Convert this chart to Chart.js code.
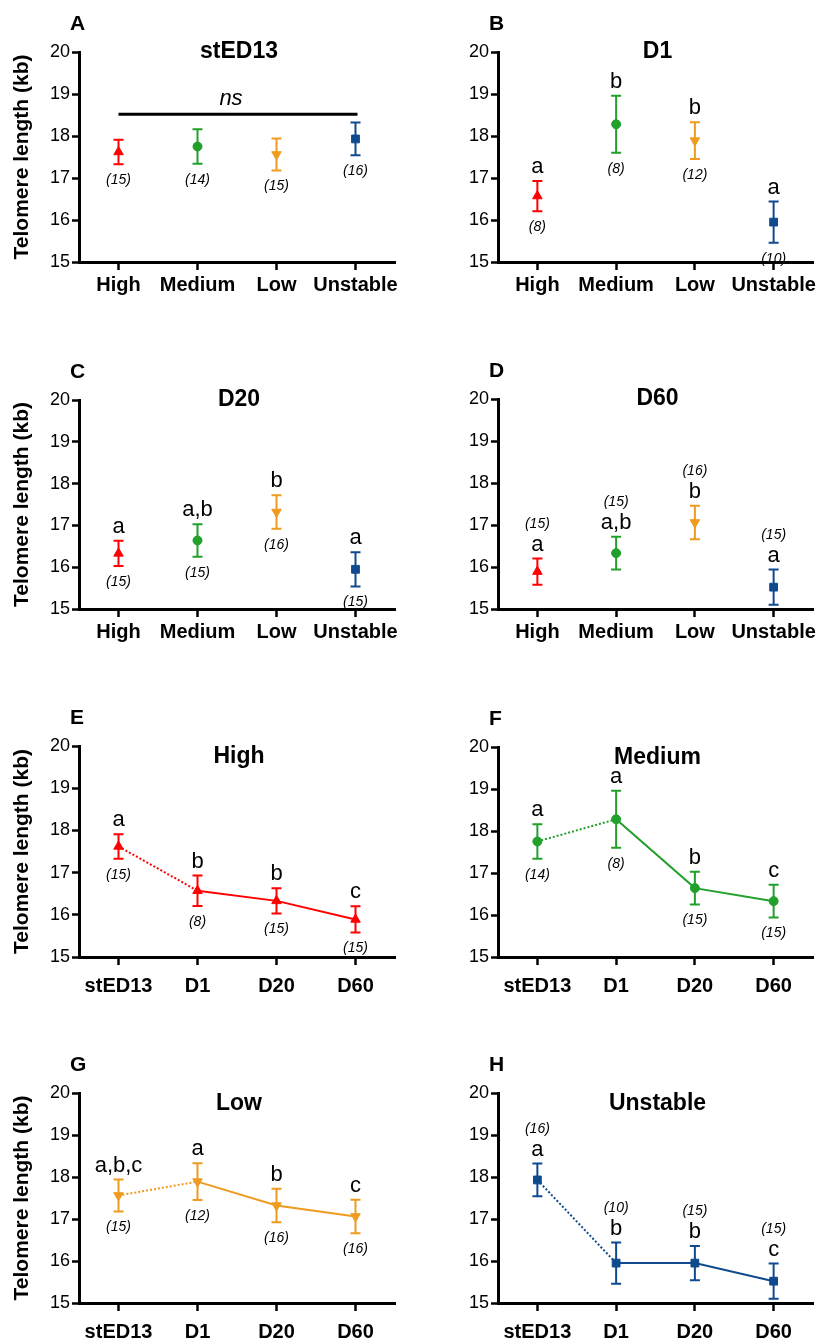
<!DOCTYPE html>
<html>
<head>
<meta charset="utf-8">
<script src="https://cdn.jsdelivr.net/npm/chart.js@4.4.1/dist/chart.umd.min.js"></script>
<style>
  html, body { margin: 0; padding: 0; background: #fff; }
  #page { position: relative; width: 821px; height: 1342px; overflow: hidden; }
  canvas { position: absolute; }
</style>
</head>
<body>
<div id="page"></div>
<script>
const groups = ["High", "Medium", "Low", "Unstable"];
const stages = ["stED13", "D1", "D20", "D60"];
const yTicks = [15, 16, 17, 18, 19, 20];

// mean telomere length (kb) and SEM at stED13, D1, D20, D60
const highMean = [17.62, 16.57, 16.33, 15.89];
const highSem = [0.29, 0.36, 0.30, 0.31];
const highN = [15, 8, 15, 15];

const mediumMean = [17.75, 18.28, 16.64, 16.33];
const mediumSem = [0.41, 0.68, 0.39, 0.39];
const mediumN = [14, 8, 15, 15];

const lowMean = [17.56, 17.89, 17.32, 17.06];
const lowSem = [0.38, 0.44, 0.40, 0.40];
const lowN = [15, 12, 16, 16];

const unstableMean = [17.93, 15.95, 15.95, 15.52];
const unstableSem = [0.39, 0.49, 0.41, 0.42];
const unstableN = [16, 10, 15, 15];

// significance letters
const lettersD1 = ["a", "b", "b", "a"];
const lettersD20 = ["a", "a,b", "b", "a"];
const lettersD60 = ["a", "a,b", "b", "a"];
const lettersHigh = ["a", "b", "b", "c"];
const lettersMedium = ["a", "a", "b", "c"];
const lettersLow = ["a,b,c", "a", "b", "c"];
const lettersUnstable = ["a", "b", "b", "c"];
const nsLevel = 18.52;

const means = [highMean, mediumMean, lowMean, unstableMean];
const sems = [highSem, mediumSem, lowSem, unstableSem];
const counts = [highN, mediumN, lowN, unstableN];

const colors = ["#ff0000", "#21a02b", "#ee9b1f", "#0f4a8e"];
const markers = ["triangle", "circle", "triangle", "rect"];
const rotations = [0, 0, 180, 0];
const radii = [5.5, 4.5, 5.5, 5.5];

const FONT = "'Liberation Sans', Arial, Helvetica, sans-serif";

// page layout
const rowTop = [0, 330, 680, 1020];
const rowHeight = [330, 350, 340, 322];
const colLeft = [0, 410];
const colWidth = [410, 411];
const areaLeft = [79, 498];
const areaRight = [395, 813];

const panels = [
  { tag: "A", title: "stED13", by: "stage", idx: 0, letters: null, ns: true, col: 0, row: 0, top: 52, bottom: 262 },
  { tag: "B", title: "D1", by: "stage", idx: 1, letters: lettersD1, col: 1, row: 0, top: 52, bottom: 262 },
  { tag: "C", title: "D20", by: "stage", idx: 2, letters: lettersD20, col: 0, row: 1, top: 400, bottom: 609 },
  { tag: "D", title: "D60", by: "stage", idx: 3, letters: lettersD60, nAbove: true, col: 1, row: 1, top: 399, bottom: 609 },
  { tag: "E", title: "High", by: "group", idx: 0, letters: lettersHigh, col: 0, row: 2, top: 746, bottom: 957 },
  { tag: "F", title: "Medium", by: "group", idx: 1, letters: lettersMedium, col: 1, row: 2, top: 747, bottom: 957 },
  { tag: "G", title: "Low", by: "group", idx: 2, letters: lettersLow, col: 0, row: 3, top: 1093, bottom: 1303 },
  { tag: "H", title: "Unstable", by: "group", idx: 3, letters: lettersUnstable, nAbove: true, col: 1, row: 3, top: 1093, bottom: 1303 },
];

// error bars, letters and n under/over each point
const errorBars = {
  id: "errorBars",
  beforeDatasetsDraw(chart) {
    const { ctx } = chart;
    const y = chart.scales.y;
    chart.data.datasets.forEach((ds, di) => {
      const meta = chart.getDatasetMeta(di);
      meta.data.forEach((pt, i) => {
        const top = y.getPixelForValue(ds.data[i] + ds.errors[i]);
        const bot = y.getPixelForValue(ds.data[i] - ds.errors[i]);
        ctx.save();
        ctx.strokeStyle = ds.barColors[i];
        ctx.lineWidth = 2;
        ctx.beginPath();
        ctx.moveTo(pt.x, top);
        ctx.lineTo(pt.x, bot);
        ctx.moveTo(pt.x - 5, top);
        ctx.lineTo(pt.x + 5, top);
        ctx.moveTo(pt.x - 5, bot);
        ctx.lineTo(pt.x + 5, bot);
        ctx.stroke();
        ctx.restore();
      });
    });
  },
  afterDatasetsDraw(chart) {
    const { ctx } = chart;
    const y = chart.scales.y;
    chart.data.datasets.forEach((ds, di) => {
      const meta = chart.getDatasetMeta(di);
      meta.data.forEach((pt, i) => {
        const top = y.getPixelForValue(ds.data[i] + ds.errors[i]);
        const bot = y.getPixelForValue(ds.data[i] - ds.errors[i]);
        ctx.save();
        ctx.fillStyle = "#000";
        ctx.textAlign = "center";
        const letterBase = top - 8;
        if (ds.letters) {
          ctx.font = `22px ${FONT}`;
          ctx.textBaseline = "alphabetic";
          ctx.fillText(ds.letters[i], pt.x, letterBase);
        }
        ctx.font = `italic 14px ${FONT}`;
        const nText = "(" + ds.counts[i] + ")";
        if (ds.nAbove) {
          ctx.textBaseline = "alphabetic";
          ctx.fillText(nText, pt.x, letterBase - 23);
        } else {
          ctx.textBaseline = "top";
          ctx.fillText(nText, pt.x, bot + 9);
        }
        ctx.restore();
      });
    });
  }
};

// panel tag, title and the "ns" bar
const panelText = {
  id: "panelText",
  afterDraw(chart, args, opts) {
    const { ctx, chartArea: a } = chart;
    ctx.save();
    ctx.fillStyle = "#000";
    ctx.textBaseline = "alphabetic";
    ctx.font = `bold 21px ${FONT}`;
    ctx.textAlign = "left";
    ctx.fillText(opts.tag, a.left - 9, a.top - 22);
    ctx.font = `bold 23px ${FONT}`;
    ctx.textAlign = "center";
    ctx.fillText(opts.title, (a.left + a.right) / 2 + 2, a.top + opts.titleDy);
    if (opts.ns) {
      const x = chart.scales.x;
      const yy = chart.scales.y.getPixelForValue(nsLevel);
      const x0 = x.getPixelForValue(0);
      const x1 = x.getPixelForValue(3) + 2;
      ctx.strokeStyle = "#000";
      ctx.lineWidth = 3;
      ctx.beginPath();
      ctx.moveTo(x0, yy);
      ctx.lineTo(x1, yy);
      ctx.stroke();
      ctx.font = `italic 22px ${FONT}`;
      ctx.fillText("ns", (x0 + x1) / 2 - 7, yy - 9);
    }
    ctx.restore();
  }
};

const page = document.getElementById("page");

panels.forEach((p) => {
  const cx = colLeft[p.col];
  const cy = rowTop[p.row];
  const w = colWidth[p.col];
  const h = rowHeight[p.row];
  const canvas = document.createElement("canvas");
  canvas.width = w;
  canvas.height = h;
  canvas.style.left = cx + "px";
  canvas.style.top = cy + "px";
  page.appendChild(canvas);

  const yAxisW = areaLeft[p.col] - cx;
  const xAxisH = cy + h - p.bottom;

  let labels, values, errs, ns, cols, styles, rots, rads;
  if (p.by === "stage") {
    labels = groups;
    values = means.map((m) => m[p.idx]);
    errs = sems.map((s) => s[p.idx]);
    ns = counts.map((c) => c[p.idx]);
    cols = colors;
    styles = markers;
    rots = rotations;
    rads = radii;
  } else {
    labels = stages;
    values = means[p.idx];
    errs = sems[p.idx];
    ns = counts[p.idx];
    cols = stages.map(() => colors[p.idx]);
    styles = stages.map(() => markers[p.idx]);
    rots = stages.map(() => rotations[p.idx]);
    rads = stages.map(() => radii[p.idx]);
  }

  const dataset = {
    data: values,
    errors: errs,
    counts: ns,
    letters: p.letters,
    nAbove: !!p.nAbove,
    barColors: cols,
    showLine: p.by === "group",
    borderColor: p.by === "group" ? colors[p.idx] : "transparent",
    borderWidth: 2,
    segment: {
      borderDash: (c) => (c.p0DataIndex === 0 ? [2, 2] : undefined),
    },
    pointStyle: styles,
    pointRotation: rots,
    pointRadius: rads,
    pointBackgroundColor: cols,
    pointBorderColor: cols,
    pointBorderWidth: 1,
  };

  const tickGrid = (len) => ({
    display: true,
    drawOnChartArea: false,
    drawTicks: true,
    tickLength: len,
    tickWidth: 2.5,
    tickColor: "#000",
    offset: false,
  });

  new Chart(canvas, {
    type: "line",
    data: { labels: labels, datasets: [dataset] },
    options: {
      responsive: false,
      animation: false,
      devicePixelRatio: 1,
      layout: {
        padding: { left: 0, top: p.top - cy, right: cx + w - areaRight[p.col], bottom: 0 },
      },
      plugins: {
        legend: { display: false },
        tooltip: { enabled: false },
        panelText: { tag: p.tag, title: p.title, titleDy: p.row < 2 ? 6 : 17, ns: !!p.ns },
      },
      scales: {
        x: {
          type: "category",
          offset: true,
          grid: tickGrid(8),
          border: { display: true, color: "#000", width: 3 },
          ticks: {
            color: "#000",
            font: { family: FONT, size: 20, weight: "bold" },
            padding: p.row < 2 ? 3 : 9,
            maxRotation: 0,
            autoSkip: false,
          },
          afterFit: (s) => { s.height = xAxisH; },
        },
        y: {
          min: 15,
          max: 20,
          afterBuildTicks: (s) => { s.ticks = yTicks.map((v) => ({ value: v })); },
          grid: tickGrid(7),
          border: { display: true, color: "#000", width: 3 },
          ticks: { color: "#000", font: { family: FONT, size: 18 }, padding: 2 },
          title: {
            display: p.col === 0,
            text: "Telomere length (kb)",
            color: "#000",
            font: { family: FONT, size: 21, weight: "bold" },
            padding: { top: 10, bottom: 0 },
          },
          afterFit: (s) => { s.width = yAxisW; },
        },
      },
    },
    plugins: [errorBars, panelText],
  });
});
</script>
</body>
</html>
